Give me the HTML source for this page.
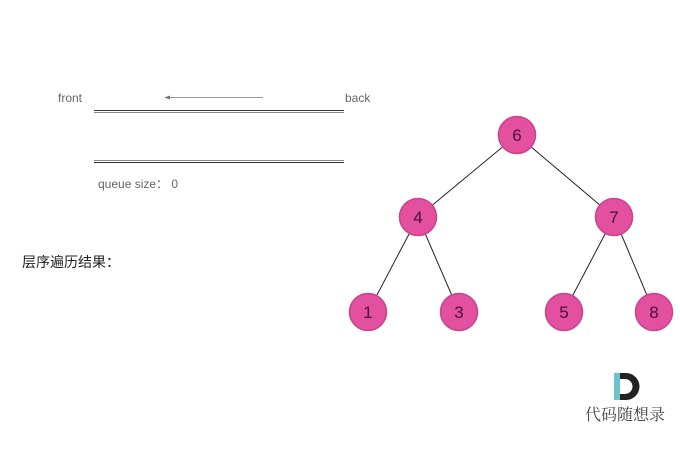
<!DOCTYPE html>
<html><head><meta charset="utf-8"><style>
body{margin:0;background:#fff;}
svg{display:block;font-family:"Liberation Sans","Noto Sans CJK SC",sans-serif;}
</style></head><body>
<svg width="680" height="458" viewBox="0 0 680 458">
<text x="58" y="102" font-size="12" fill="#666">front</text>
<text x="345" y="102" font-size="12" fill="#666">back</text>
<line x1="263" y1="97.5" x2="168" y2="97.5" stroke="#999" stroke-width="1"/>
<polygon points="164,97.5 170,95.5 170,99.5" fill="#777"/>
<g stroke="#333" stroke-width="1">
<line x1="94" y1="110.5" x2="344" y2="110.5"/><line x1="94" y1="112.5" x2="344" y2="112.5" stroke="#888"/>
<line x1="94" y1="160.5" x2="344" y2="160.5" stroke="#888"/><line x1="94" y1="162.5" x2="344" y2="162.5"/>
</g>
<text x="98" y="188" font-size="12" fill="#666">queue size：  0</text>
<text x="22" y="267" font-size="14" fill="#222">层序遍历结果：</text>
<g stroke="#222" stroke-width="1">
<line x1="517" y1="135" x2="418" y2="217"/><line x1="517" y1="135" x2="614" y2="217"/>
<line x1="418" y1="217" x2="368" y2="312"/><line x1="418" y1="217" x2="459" y2="312"/>
<line x1="614" y1="217" x2="564" y2="312"/><line x1="614" y1="217" x2="654" y2="312"/>
</g>
<g fill="#e2509f" stroke="#c9448c" stroke-width="1.5">
<circle cx="517" cy="135" r="18.5"/><circle cx="418" cy="217" r="18.5"/><circle cx="614" cy="217" r="18.5"/>
<circle cx="368" cy="312" r="18.5"/><circle cx="459" cy="312" r="18.5"/><circle cx="564" cy="312" r="18.5"/><circle cx="654" cy="312" r="18.5"/>
</g>
<g font-size="17" fill="#4a1035" text-anchor="middle">
<text x="517" y="141">6</text><text x="418" y="223">4</text><text x="614" y="223">7</text>
<text x="368" y="318">1</text><text x="459" y="318">3</text><text x="564" y="318">5</text><text x="654" y="318">8</text>
</g>
<rect x="614" y="373" width="6" height="27" fill="#6cc3cc"/>
<path d="M620,373 H626 A13.5,13.5 0 0 1 626,400 H620 V394 H625 A7.5,7.5 0 0 0 625,379 H620 Z" fill="#222"/>
<text x="625" y="420" font-size="16" fill="#444" text-anchor="middle" font-family="'Noto Serif CJK SC',serif">代码随想录</text>
</svg>
</body></html>
